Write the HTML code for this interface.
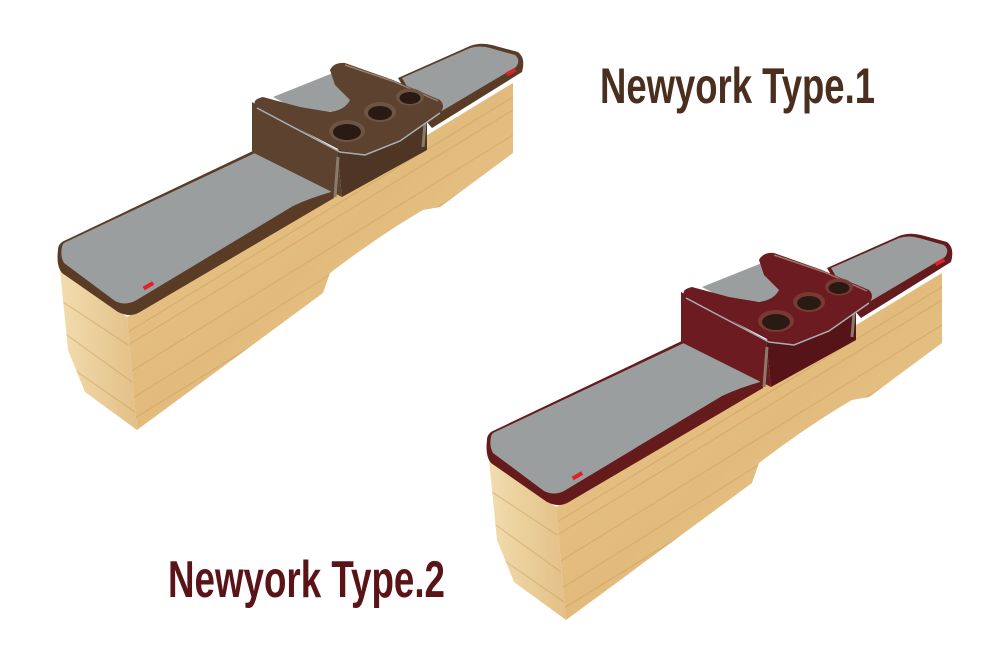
<!DOCTYPE html>
<html><head><meta charset="utf-8">
<style>
html,body{margin:0;padding:0;background:#fff;}
svg{display:block}
.t{font-family:"Liberation Sans Narrow","Liberation Sans",sans-serif;font-weight:bold;}
</style></head>
<body>
<svg width="1000" height="667" viewBox="0 0 1000 667" xmlns="http://www.w3.org/2000/svg">
<defs>
<linearGradient id="wood" x1="0" y1="0" x2="1" y2="1">
<stop offset="0" stop-color="#e9c78e"/><stop offset="0.5" stop-color="#e2bb7c"/><stop offset="1" stop-color="#ecce98"/>
</linearGradient>
<linearGradient id="woodL" x1="0" y1="0" x2="1" y2="0">
<stop offset="0" stop-color="#f2dcae"/><stop offset="1" stop-color="#e3c086"/>
</linearGradient>
<clipPath id="fc"><path d="M127,317 L513,83 L513,153 L440,207 L423,210 Q380,235 330,273 L323,293 L137,430 Z"/></clipPath>
<clipPath id="lc"><polygon points="60,270 127,317 137,430 85,392 68,350"/></clipPath>
<g id="bench">
<polygon points="60,270 127,317 137,430 85,392 68,350" fill="url(#woodL)"/>
<path d="M127,317 L513,83 L513,153 L440,207 L423,210 Q380,235 330,273 L323,293 L137,430 Z" fill="url(#wood)"/>
<g stroke="#c99a58" stroke-width="1.2" opacity="0.45" clip-path="url(#fc)">
<line x1="128" y1="345" x2="513" y2="110"/><line x1="130" y1="372" x2="513" y2="135"/>
<line x1="133" y1="398" x2="513" y2="160"/><line x1="135" y1="418" x2="513" y2="185"/>
<line x1="128" y1="332" x2="513" y2="97"/>
</g>
<g stroke="#c99a58" stroke-width="1.2" opacity="0.45" clip-path="url(#lc)">
<line x1="60" y1="300" x2="128" y2="345"/><line x1="60" y1="330" x2="132" y2="382"/><line x1="60" y1="360" x2="135" y2="412"/>
</g>
<path d="M58,250 Q58,243 66,240 L257,149 L328,176 Q336,182 334,198 L140,312 Q130,318 118,312 L62,273 Q56,266 58,250 Z" fill="var(--rim)"/>
<path d="M62,247 Q62,243 68,241 L257,152 L326,177 Q334,182 331,192 Q310,198 293,206 L135,301 Q125,306 115,301 L64,263 Q60,256 62,247 Z" fill="#9b9e9f"/>
<rect x="143" y="284" width="11" height="4" fill="#e0202a" transform="rotate(-30 148 286)"/>
<path d="M398,78 L470,46 Q480,42 492,45 L518,52 Q526,58 522,72 L432,128 L418,112 Z" fill="var(--rim)"/>
<path d="M402,78 L470,48 Q480,45 490,48 L515,55 Q521,60 516,67 L430,118 L418,105 Z" fill="#9b9e9f"/>
<rect x="506" y="70" width="10" height="4" fill="#e0202a" transform="rotate(-28 511 72)"/>
<polygon points="273,97 333,73 373,90 373,110 303,113" fill="#9b9e9f"/>
<polygon points="252,102 337,150 342,197 252,152" fill="var(--box)"/>
<polygon points="337,150 427,110 427,150 342,197" fill="var(--box2)"/>
<line x1="338" y1="157" x2="335" y2="197" stroke="#8a7a6a" stroke-width="3"/>
<line x1="425" y1="123" x2="423" y2="147" stroke="#8a7a6a" stroke-width="3"/>
<path d="M330,70 Q334,62 345,63 L393,80 L440,100 Q446,106 440,113 L400,140 Q380,150 362,155 L340,150 L257,107 Q250,100 263,97 L300,107 L330,112 Q345,110 350,100 L335,85 Z" fill="var(--box)"/>
<path d="M345,65 L395,82 L438,101" stroke="#b09a86" stroke-width="1.5" fill="none" opacity="0.7"/>
<path d="M257,108 L340,152 L365,155 L400,141 L440,113" stroke="#a8b0b2" stroke-width="1.5" fill="none"/>
<ellipse cx="347" cy="131" rx="18" ry="11" fill="var(--ring)"/>
<ellipse cx="347" cy="132" rx="14" ry="8" fill="#2a1a14"/>
<ellipse cx="380" cy="112" rx="16" ry="10" fill="var(--ring)"/>
<ellipse cx="380" cy="113" rx="12" ry="7" fill="#2a1a14"/>
<ellipse cx="410" cy="97" rx="14" ry="8.5" fill="var(--ring)"/>
<ellipse cx="410" cy="98" rx="10.5" ry="6" fill="#2a1a14"/>
</g>
</defs>
<g style="--rim:#5a3c26;--box:#5e4230;--box2:#4e3524;--ring:#6e5442"><use href="#bench"/></g>
<g style="--rim:#651a1c;--box:#6c1c20;--box2:#561418;--ring:#7a3a34" transform="translate(429,190)"><use href="#bench"/></g>
<text x="600" y="103" class="t" font-size="50" fill="#4a2e1e" textLength="275" lengthAdjust="spacingAndGlyphs">Newyork Type.1</text>
<text x="168" y="597" class="t" font-size="52" fill="#5a1418" textLength="277" lengthAdjust="spacingAndGlyphs">Newyork Type.2</text>
</svg>
</body></html>
